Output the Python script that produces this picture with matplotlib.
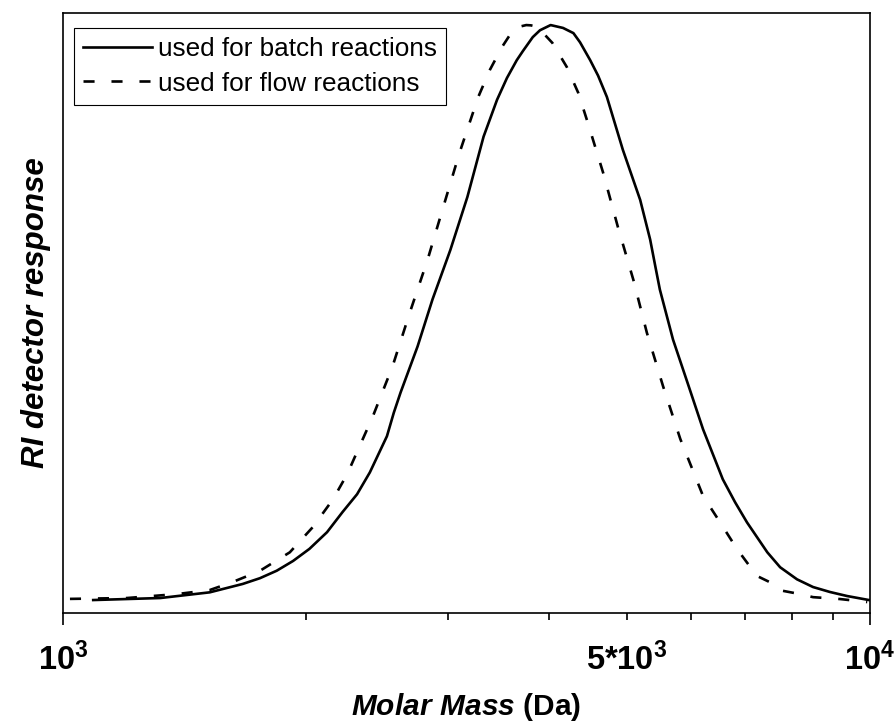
import matplotlib
matplotlib.use("Agg")
import matplotlib.pyplot as plt
from matplotlib.ticker import FixedLocator, FixedFormatter, NullLocator

plt.rcParams["font.family"] = ["Liberation Sans", "DejaVu Sans"]
plt.rcParams["mathtext.fontset"] = "custom"
plt.rcParams["mathtext.rm"] = "Liberation Sans:bold"
plt.rcParams["mathtext.bf"] = "Liberation Sans:bold"
plt.rcParams["mathtext.it"] = "Liberation Sans:bold:italic"

# GPC traces (normalised RI signal vs. molar mass in Da)
batch_mass = [1090, 1320, 1520, 1670, 1754, 1840, 1928, 2020, 2124, 2220, 2314,
              2400, 2520, 2570, 2620, 2750, 2870, 3020, 3170, 3320, 3450, 3549,
              3650, 3715, 3820, 3900, 4020, 4165, 4290, 4372, 4500, 4603, 4720,
              4940, 5190, 5340, 5420, 5490, 5700, 5980, 6210, 6570, 6805, 7040,
              7460, 7738, 8120, 8500, 8920, 9365, 9970]
batch_signal = [0.000, 0.0035, 0.0134, 0.028, 0.038, 0.051, 0.068, 0.089, 0.118,
                0.153, 0.184, 0.222, 0.285, 0.326, 0.361, 0.441, 0.523, 0.609,
                0.701, 0.806, 0.870, 0.908, 0.939, 0.955, 0.979, 0.991, 1.000,
                0.995, 0.986, 0.970, 0.939, 0.912, 0.875, 0.783, 0.696, 0.627,
                0.580, 0.540, 0.453, 0.366, 0.297, 0.210, 0.170, 0.135, 0.083,
                0.057, 0.036, 0.0226, 0.014, 0.007, 0.000]

flow_mass = [1020, 1200, 1385, 1520, 1620, 1750, 1910, 2040, 2160, 2250, 2330,
             2420, 2560, 2690, 2830, 2960, 3100, 3190, 3270, 3380, 3500, 3610,
             3673, 3750, 3800, 3870, 4040, 4210, 4350, 4470, 4670, 4870, 5090,
             5290, 5540, 5820, 6210, 6520, 6840, 7240, 7515, 7800, 8185, 8500,
             9185, 9920]
flow_signal = [0.002, 0.0035, 0.0104, 0.0174, 0.031, 0.050, 0.083, 0.127, 0.175,
               0.219, 0.267, 0.319, 0.406, 0.500, 0.592, 0.684, 0.778, 0.830,
               0.875, 0.922, 0.962, 0.991, 0.997, 1.000, 0.9995, 0.997, 0.969,
               0.927, 0.882, 0.830, 0.743, 0.649, 0.557, 0.465, 0.372, 0.280,
               0.181, 0.135, 0.089, 0.042, 0.031, 0.016, 0.0104, 0.005, 0.0017,
               -0.0035]

series_labels = ["used for batch reactions", "used for flow reactions"]

major_ticks = [1000, 10000]
major_labels = [r"$10^3$", r"$10^4$"]
minor_ticks = [2000, 3000, 4000, 5000, 6000, 7000, 8000, 9000]
minor_labels = ["", "", "", r"5*$10^3$", "", "", "", ""]

fig = plt.figure(figsize=(8.95, 7.26), dpi=100)
ax = fig.add_axes([0.0704, 0.1556, 0.9017, 0.8265])

ax.plot(batch_mass, batch_signal, color="black", lw=1.9, ls="-",
        label=series_labels[0])
ax.plot(flow_mass, flow_signal, color="black", lw=1.9, ls=(0, (4.2, 6.4)),
        label=series_labels[1])

ax.set_xscale("log")
ax.set_xlim(1000, 10000)
ax.set_ylim(-0.0226, 1.021)

ax.xaxis.set_major_locator(FixedLocator(major_ticks))
ax.xaxis.set_major_formatter(FixedFormatter(major_labels))
ax.xaxis.set_minor_locator(FixedLocator(minor_ticks))
ax.xaxis.set_minor_formatter(FixedFormatter(minor_labels))
ax.yaxis.set_major_locator(NullLocator())
ax.yaxis.set_minor_locator(NullLocator())

major_len, minor_len, pad = 8.5, 5.0, 13.0
ax.tick_params(axis="x", which="major", direction="out", length=major_len,
               width=1.2, pad=pad, labelsize=23.5)
ax.tick_params(axis="x", which="minor", direction="out", length=minor_len,
               width=1.2, pad=pad + major_len - minor_len, labelsize=23.5)
for lab in ax.get_xticklabels(which="both"):
    lab.set_fontweight("bold")

for sp in ax.spines.values():
    sp.set_linewidth(1.2)
    sp.set_color("black")

ax.set_xlabel(r"$\mathit{Molar\ Mass}$ (Da)", fontsize=21.5, fontweight="bold",
              labelpad=10)
ax.set_ylabel("RI detector response", fontsize=22.5, fontweight="bold",
              fontstyle="italic", labelpad=9)

leg = ax.legend(loc="upper left", bbox_to_anchor=(0.0136, 0.975),
                borderaxespad=0, fontsize=18.8, frameon=True, fancybox=False,
                framealpha=1, edgecolor="black", handlelength=2.65,
                handletextpad=0.22, labelspacing=0.4, borderpad=0.35)
leg.get_frame().set_linewidth(0.8)

fig.savefig("out.png", dpi=100)
